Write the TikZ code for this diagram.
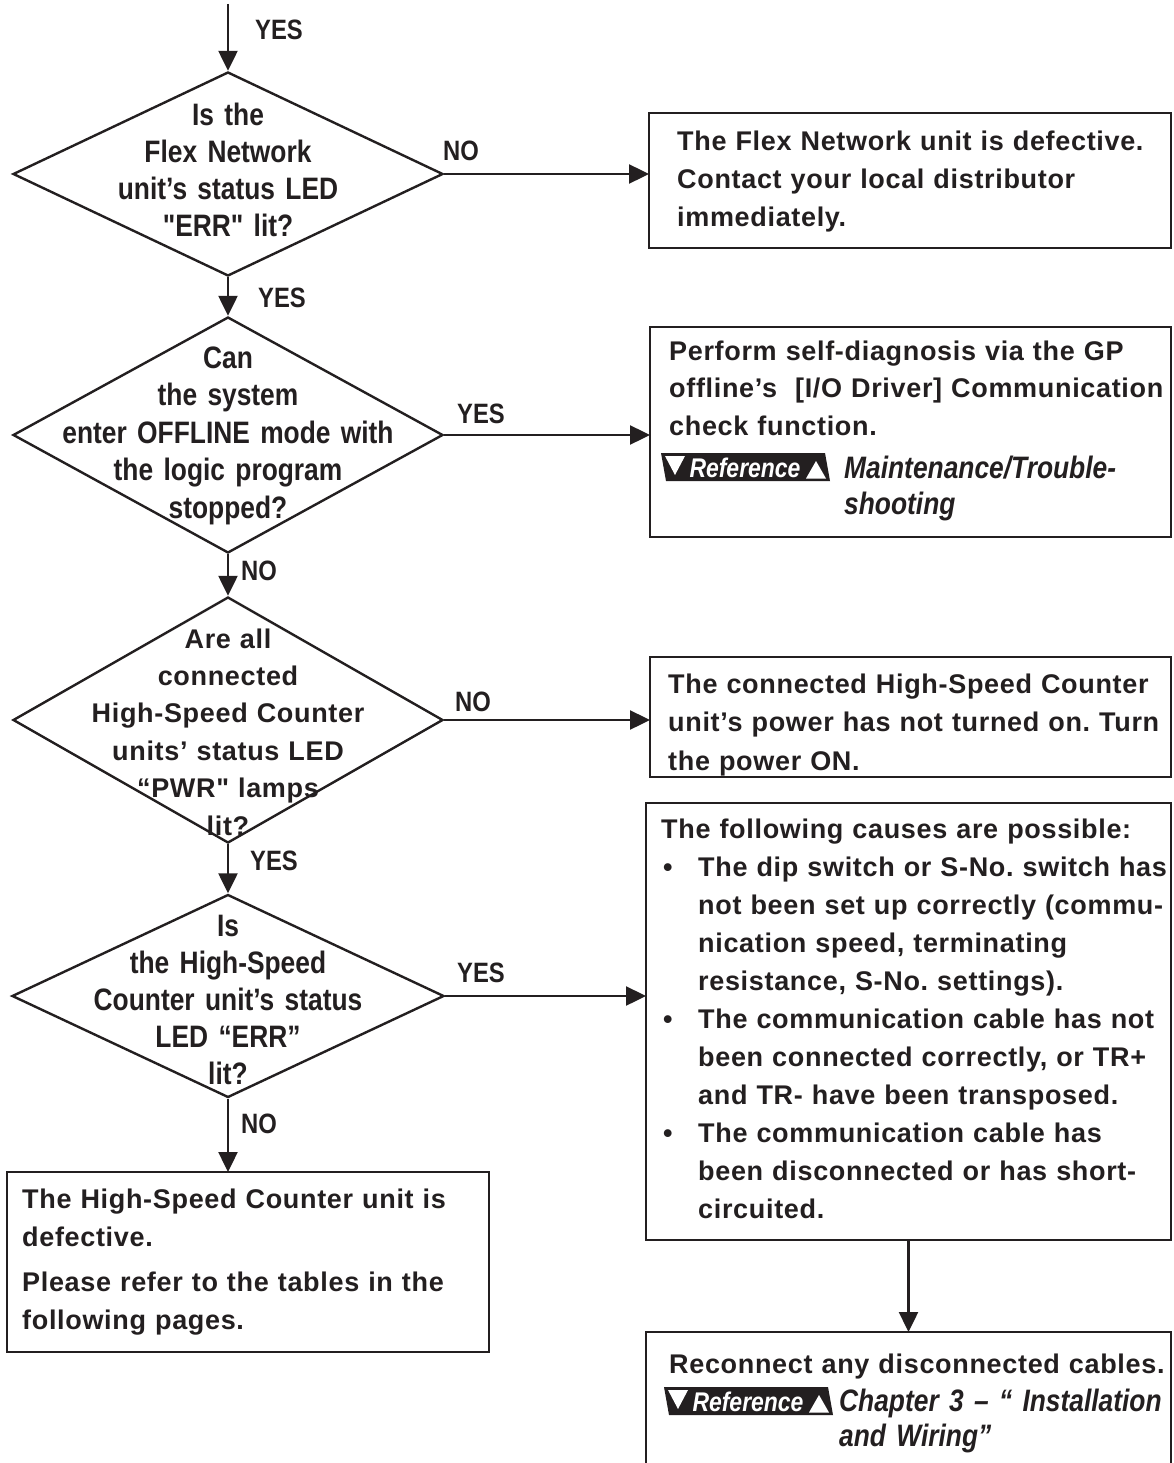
\documentclass[tikz,border=0pt]{standalone}
\usepackage{fontspec}
\setmainfont{Liberation Sans}
\newfontfamily\bfont[LetterSpace=2.5]{Liberation Sans}
\newfontfamily\nfont[FakeStretch=0.85,WordSpace=0.6]{Liberation Sans}
\usetikzlibrary{shapes.geometric,arrows.meta}
\definecolor{ink}{HTML}{231F20}
\frenchspacing
\newcommand\bxfnt[1]{\bfont\bfseries\fontsize{27}{#1}\selectfont}
\newcommand\dgfnt[1]{\nfont\bfseries\fontsize{31}{#1}\selectfont}
\newcommand\itfnt[1]{\nfont\bfseries\itshape\fontsize{31}{#1}\selectfont}
\newcommand\bxbul{\makebox[37pt][l]{\hspace*{2pt}•}}
\newcommand\bxind{\hspace*{37pt}}
\begin{document}
\begin{tikzpicture}[x=1pt,y=-1pt,
  box/.style={draw=ink,line width=2.6pt,rectangle,inner sep=0pt,outer sep=0pt,anchor=north west},
  dia/.style={draw=ink,line width=2.4pt,diamond,inner sep=0pt},
  arr/.style={draw=ink,line width=2.4pt,-{Triangle[length=20pt,width=19pt]}},
  btxt/.style={inner sep=0pt,anchor=base west,text width=#1,align=left,text=ink},
  ctxt/.style={inner sep=0pt,anchor=base,text width=440pt,align=center,text=ink},
  lbl/.style={inner sep=0pt,anchor=base west,text=ink,font=\nfont\bfseries\fontsize{28}{30}\selectfont},
  refbadge/.pic={
    \fill[ink] (0,0) -- (164,0) -- (169,28) -- (5,28) -- cycle;
    \fill[white] (4,3) -- (24,3) -- (14,22) -- cycle;
    \fill[white] (145,25.5) -- (165,25.5) -- (155,8) -- cycle;
    \node[inner sep=0pt,text=white,font=\nfont\bfseries\itshape\fontsize{27}{27}\selectfont] (-t) at (84,14.5) {Reference};
  }]
\useasboundingbox (0,0) rectangle (1173,1463);
\fill[white] (0,0) rectangle (1173,1463);

% decision diamonds
\node[dia,minimum width=430pt,minimum height=204pt] (d1) at (228,174) {};
\node[dia,minimum width=430pt,minimum height=236pt] (d2) at (228,435) {};
\node[dia,minimum width=430pt,minimum height=246pt] (d3) at (228,720) {};
\node[dia,minimum width=432pt,minimum height=203pt] (d4) at (228,996) {};

% boxes
\node[box,minimum width=522pt,minimum height=135pt] (b1) at (649,113) {};
\node[box,minimum width=521pt,minimum height=210pt] (b2) at (650,327) {};
\node[box,minimum width=521pt,minimum height=120pt] (b3) at (650,657) {};
\node[box,minimum width=525pt,minimum height=437pt] (b4) at (646,803) {};
\node[box,minimum width=482pt,minimum height=180pt] (b5) at (7,1172) {};
\node[box,minimum width=525pt,minimum height=150pt] (b6) at (646,1332) {};

% diamond texts
\node[ctxt,font={\dgfnt{36.7}}] (d1t) at (228,126) {Is the\\Flex Network\\unit’s status LED\\"ERR" lit?};
\node[ctxt,font={\dgfnt{37.5}}] (d2t) at (228,368) {Can\\the system\\enter OFFLINE mode with\\the logic program\\stopped?};
\node[ctxt,font={\bxfnt{37.4}}] (d3t) at (228,648) {Are all\\connected\\High-Speed Counter\\units’ status LED\\“PWR" lamps\\lit?};
\node[ctxt,font={\dgfnt{37}}] (d4t) at (228,936) {Is\\the High-Speed\\Counter unit’s status\\LED “ERR”\\lit?};

% box texts
\node[btxt=490pt,font={\bxfnt{38}}] (b1t) at (677,151) {The Flex Network unit is defective.\\Contact your local distributor\\immediately.};
\node[btxt=500pt,font={\bxfnt{37.5}}] (b2t) at (669,360) {\makebox[496pt][s]{Perform self-diagnosis via the GP}\\\makebox[496pt][s]{offline’s \ [I/O Driver] Communication}\\check function.};
\pic (r1) at (661,453) {refbadge};
\node[btxt=320pt,font={\itfnt{36}}] (b2i) at (844,478) {Maintenance/Trouble-\\shooting};
\node[btxt=500pt,font={\bxfnt{38.5}}] (b3t) at (668,693) {The connected High-Speed Counter\\unit’s power has not turned on. Turn\\the power ON.};
\node[btxt=515pt,font={\bxfnt{38}}] (b4t) at (661,838) {The following causes are possible:\\
\bxbul The dip switch or S-No. switch has\\
\bxind not been set up correctly (commu-\\
\bxind nication speed, terminating\\
\bxind resistance, S-No. settings).\\
\bxbul The communication cable has not\\
\bxind been connected correctly, or TR+\\
\bxind and TR- have been transposed.\\
\bxbul The communication cable has\\
\bxind been disconnected or has short-\\
\bxind circuited.};
\node[btxt=460pt,font={\bxfnt{38}}] (b5t) at (22,1208) {The High-Speed Counter unit is\\defective.\\[7pt]Please refer to the tables in the\\following pages.};
\node[btxt=500pt,font={\bxfnt{38}}] (b6t) at (669,1373) {Reconnect any disconnected cables.};
\pic (r2) at (664,1387) {refbadge};
\node[btxt=330pt,font={\itfnt{35}}] (b6i) at (839,1411) {Chapter 3 – “ Installation\\and Wiring”};

% connectors
\coordinate (start) at (228,4);
\draw[arr] (start) -- (d1.north);
\draw[arr] (d1.east) -- (d1.east -| b1.west);
\draw[arr] (d1.south) -- (d2.north);
\draw[arr] (d2.east) -- (d2.east -| b2.west);
\draw[arr] (d2.south) -- (d3.north);
\draw[arr] (d3.east) -- (d3.east -| b3.west);
\draw[arr] (d3.south) -- (d4.north);
\draw[arr] (d4.east) -- (d4.east -| b4.west);
\draw[arr] (d4.south) -- (d4.south |- b5.north);
\draw[arr] (b4.south) -- (b6.north);

% labels
\node[lbl] (l0) at (255,40) {YES};
\node[lbl] (l1) at (443,161) {NO};
\node[lbl] (l2) at (258,307) {YES};
\node[lbl] (l3) at (457,423) {YES};
\node[lbl] (l4) at (241,580) {NO};
\node[lbl] (l5) at (455,711) {NO};
\node[lbl] (l6) at (250,870) {YES};
\node[lbl] (l7) at (457,982) {YES};
\node[lbl] (l8) at (241,1133) {NO};
\end{tikzpicture}
\end{document}
